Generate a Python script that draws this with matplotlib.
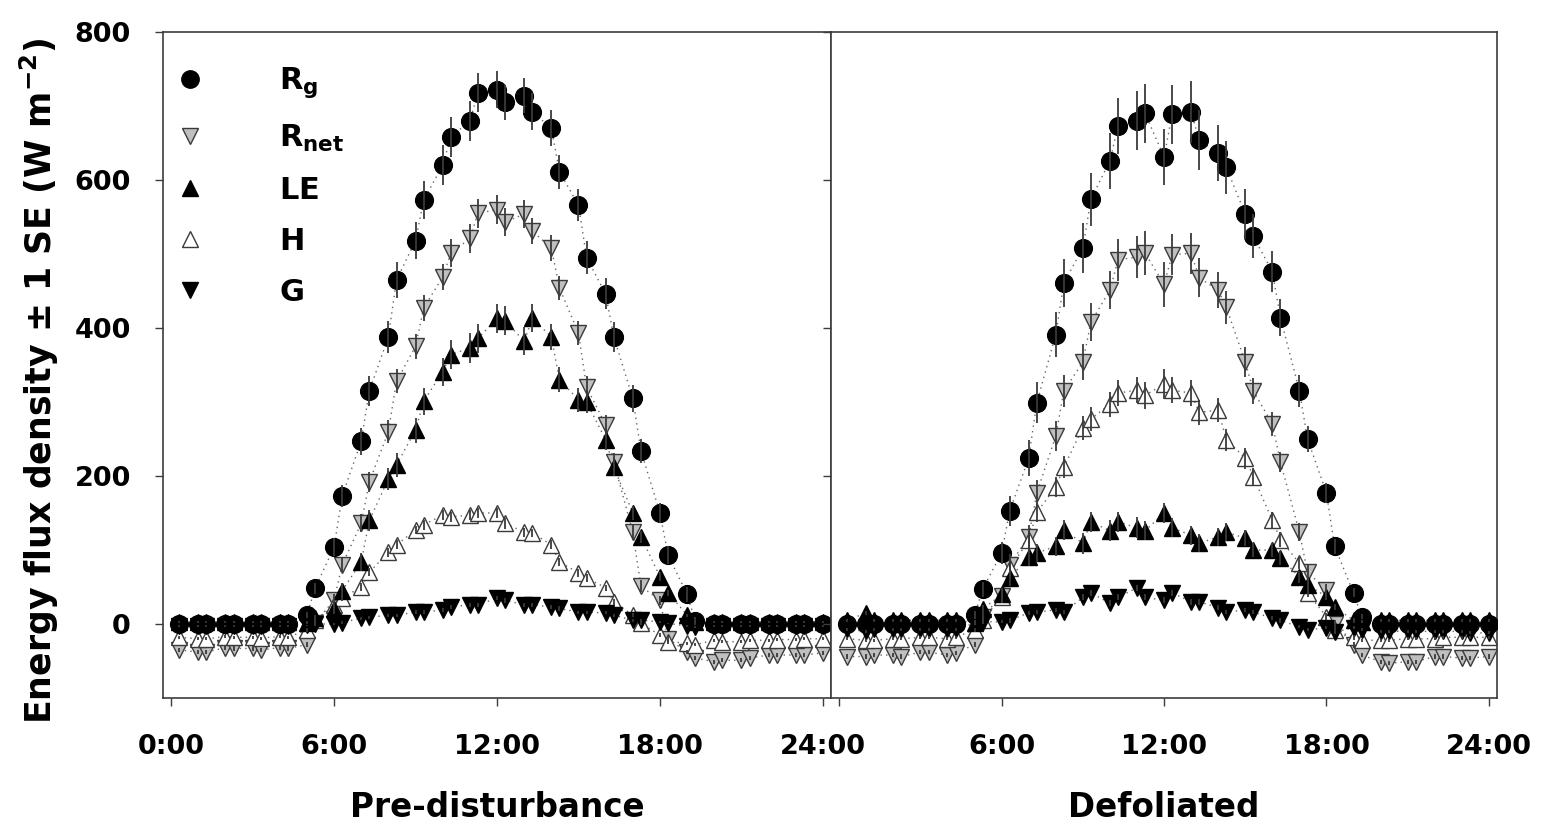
import matplotlib
matplotlib.use("Agg")
import matplotlib.pyplot as plt
from matplotlib.lines import Line2D

plt.rcParams['font.family'] = ['DejaVu Sans']
plt.rcParams['font.weight'] = 'bold'
plt.rcParams['mathtext.fontset'] = 'custom'
plt.rcParams['mathtext.rm'] = 'DejaVu Sans:bold'
plt.rcParams['mathtext.bf'] = 'DejaVu Sans:bold'
plt.rcParams['mathtext.it'] = 'DejaVu Sans:bold'

# Half-hourly logger clock times; plotted as hour + minutes/100 (0:30 -> 0.3)
clock = ["0:30", "1:00", "1:30", "2:00", "2:30", "3:00", "3:30", "4:00",
         "4:30", "5:00", "5:30", "6:00", "6:30", "7:00", "7:30", "8:00",
         "8:30", "9:00", "9:30", "10:00", "10:30", "11:00", "11:30", "12:00",
         "12:30", "13:00", "13:30", "14:00", "14:30", "15:00", "15:30", "16:00",
         "16:30", "17:00", "17:30", "18:00", "18:30", "19:00", "19:30", "20:00",
         "20:30", "21:00", "21:30", "22:00", "22:30", "23:00", "23:30", "24:00"]

panels = ["Pre-disturbance", "Defoliated"]
tick_hours = [0, 6, 12, 18, 24]
tick_labels_left = ["0:00", "6:00", "12:00", "18:00", "24:00"]
tick_labels_right = ["", "6:00", "12:00", "18:00", "24:00"]
y_ticks = [0, 200, 400, 600, 800]

# ---------------- Pre-disturbance (W m-2) ----------------
pre_rg = [0, 0, 0, 0, 0, 0, 0, 0, 0, 12, 48, 104, 173, 247, 315, 388,
          465, 518, 573, 620, 658, 680, 718, 722, 705, 714, 692, 670, 611, 566, 495, 446,
          388, 305, 234, 150, 93, 40, 4, 0, 0, 0, 0, 0, 0, 0, 0, 0]
pre_rg_se = [0, 0, 0, 0, 0, 0, 0, 0, 0, 4, 8, 12, 15, 18, 20, 22,
             24, 25, 26, 27, 27, 27, 26, 25, 24, 24, 25, 24, 23, 22, 22, 21,
             20, 18, 16, 14, 12, 10, 6, 0, 0, 0, 0, 0, 0, 0, 0, 0]
pre_rnet = [-35, -38, -38, -32, -33, -33, -35, -32, -33, -28, 2, 32, 80, 136, 192, 260,
            328, 375, 427, 469, 501, 521, 555, 560, 543, 554, 531, 508, 454, 393, 320, 269,
            219, 124, 51, 32, -20, -38, -46, -51, -49, -49, -46, -42, -42, -42, -42, -39]
pre_rnet_se = [3, 3, 3, 3, 3, 3, 3, 3, 3, 3, 5, 8, 10, 12, 14, 15,
               16, 17, 18, 18, 19, 19, 20, 20, 19, 19, 18, 17, 16, 16, 15, 14,
               12, 10, 8, 6, 4, 3, 3, 3, 3, 3, 3, 3, 3, 3, 3, 3]
pre_le = [3, 3, 3, 3, 3, 3, 3, 3, 3, 2, 8, 20, 45, 84, 140, 196,
          215, 262, 301, 341, 364, 373, 386, 413, 410, 382, 413, 388, 330, 303, 300, 249,
          212, 150, 118, 64, 42, 12, 3, 3, 3, 3, 3, 3, 3, 3, 3, 3]
pre_le_se = [1, 1, 1, 1, 1, 1, 1, 1, 1, 2, 4, 6, 10, 12, 14, 15,
             16, 17, 18, 19, 20, 20, 20, 20, 20, 19, 19, 18, 17, 16, 15, 14,
             12, 10, 8, 6, 4, 2, 1, 1, 1, 1, 1, 1, 1, 1, 1, 1]
pre_h = [-18, -20, -20, -17, -18, -18, -19, -17, -18, -8, 5, 25, 35, 50, 70, 97,
         107, 127, 134, 147, 145, 147, 150, 150, 136, 124, 123, 107, 84, 69, 62, 49,
         30, 12, 1, -15, -24, -26, -28, -22, -24, -24, -22, -22, -21, -21, -20, -20]
pre_h_se = [2, 2, 2, 2, 2, 2, 2, 2, 2, 3, 3, 4, 4, 5, 5, 6,
            6, 6, 7, 7, 7, 7, 7, 7, 7, 6, 6, 6, 5, 5, 5, 4,
            4, 3, 3, 3, 3, 2, 2, 2, 2, 2, 2, 2, 2, 2, 2, 2]
pre_g = [-3, -3, -3, -3, -3, -3, -3, -3, -3, -2, 0, 0, 2, 8, 9, 12,
         12, 16, 16, 19, 23, 26, 26, 35, 32, 26, 26, 23, 21, 16, 16, 15,
         12, 5, 5, 3, 1, -3, -4, -3, -3, -3, -3, -3, -3, -3, -3, -3]
pre_g_se = [1, 1, 1, 1, 1, 1, 1, 1, 1, 1, 1, 1, 2, 2, 2, 2,
            2, 3, 3, 3, 3, 3, 3, 3, 3, 3, 3, 3, 3, 2, 2, 2,
            2, 2, 2, 1, 1, 1, 1, 1, 1, 1, 1, 1, 1, 1, 1, 1]

# ---------------- Defoliated (W m-2) ----------------
def_rg = [0, 0, 0, 0, 0, 0, 0, 0, 0, 12, 47, 96, 153, 224, 299, 391,
          461, 508, 574, 626, 673, 680, 690, 631, 689, 692, 654, 636, 617, 554, 524, 476,
          414, 315, 250, 177, 105, 42, 10, 0, 0, 0, 0, 0, 0, 0, 0, 0]
def_rg_se = [0, 0, 0, 0, 0, 0, 0, 0, 0, 5, 10, 15, 20, 24, 28, 30,
             32, 34, 36, 38, 38, 40, 40, 38, 40, 42, 40, 38, 36, 34, 30, 28,
             25, 22, 18, 14, 10, 6, 3, 0, 0, 0, 0, 0, 0, 0, 0, 0]
def_rnet = [-44, -44, -42, -42, -44, -38, -38, -42, -39, -28, 10, 38, 80, 118, 177, 254,
            315, 354, 408, 451, 492, 496, 501, 459, 499, 501, 468, 451, 428, 354, 315, 270,
            219, 124, 70, 46, 0, -28, -42, -51, -53, -51, -51, -44, -44, -46, -46, -44]
def_rnet_se = [3, 3, 3, 3, 3, 3, 3, 3, 3, 3, 6, 10, 14, 16, 18, 20,
               22, 24, 26, 26, 28, 28, 30, 30, 28, 28, 26, 24, 22, 20, 18, 16,
               14, 12, 10, 8, 6, 4, 3, 3, 3, 3, 3, 3, 3, 3, 3, 3]
def_le = [5, 15, 5, 5, 5, 5, 5, 5, 5, 2, 20, 40, 62, 91, 96, 105,
          127, 109, 138, 126, 138, 130, 126, 150, 130, 120, 109, 118, 124, 116, 100, 100,
          89, 64, 53, 37, 23, 5, 3, 5, 5, 5, 5, 5, 5, 5, 5, 5]
def_le_se = [2, 3, 2, 2, 2, 2, 2, 2, 2, 3, 5, 8, 10, 12, 12, 13,
             13, 14, 14, 14, 14, 14, 13, 13, 13, 13, 12, 12, 12, 11, 10, 10,
             9, 8, 6, 5, 4, 3, 2, 2, 2, 2, 2, 2, 2, 2, 2, 2]
def_h = [-20, -22, -22, -20, -20, -18, -18, -20, -18, -8, 5, 37, 75, 113, 151, 185,
         212, 265, 277, 297, 312, 316, 309, 324, 316, 312, 286, 289, 249, 224, 199, 140,
         114, 82, 42, 10, -8, -18, -22, -22, -22, -20, -20, -20, -18, -18, -18, -18]
def_h_se = [2, 2, 2, 2, 2, 2, 2, 2, 2, 3, 5, 8, 10, 12, 13, 14,
            15, 16, 16, 17, 18, 18, 18, 20, 18, 18, 17, 16, 15, 14, 12, 11,
            10, 8, 6, 5, 4, 3, 2, 2, 2, 2, 2, 2, 2, 2, 2, 2]
def_g = [-7, -10, -7, -7, -7, -7, -7, -7, -7, 1, 3, 3, 5, 15, 16, 19,
         16, 36, 42, 28, 36, 49, 36, 32, 42, 30, 30, 22, 16, 19, 16, 8,
         5, -4, -8, -5, -11, -5, -8, -10, -10, -10, -10, -10, -10, -10, -12, -12]
def_g_se = [2, 2, 2, 2, 2, 2, 2, 2, 2, 2, 2, 2, 3, 3, 3, 3,
            3, 4, 4, 4, 4, 4, 4, 4, 4, 4, 4, 3, 3, 3, 3, 3,
            3, 2, 2, 2, 2, 2, 2, 2, 2, 2, 2, 2, 2, 2, 2, 2]

hours = [int(c.split(":")[0]) + int(c.split(":")[1]) / 100 for c in clock]

# series styles: label, marker, face colour, edge colour, z-order
styles = {
    "rnet": (r"$\mathbf{R_{net}}$", "v", "#bfbfbf", "#3a3a3a", 3),
    "h":    (r"$\mathbf{H}$",       "^", "white",   "#3a3a3a", 4),
    "le":   (r"$\mathbf{LE}$",      "^", "black",   "black",   5),
    "g":    (r"$\mathbf{G}$",       "v", "black",   "black",   6),
    "rg":   (r"$\mathbf{R_g}$",     "o", "black",   "black",   7),
}

panel_data = [
    {"rg": (pre_rg, pre_rg_se), "rnet": (pre_rnet, pre_rnet_se), "le": (pre_le, pre_le_se),
     "h": (pre_h, pre_h_se), "g": (pre_g, pre_g_se)},
    {"rg": (def_rg, def_rg_se), "rnet": (def_rnet, def_rnet_se), "le": (def_le, def_le_se),
     "h": (def_h, def_h_se), "g": (def_g, def_g_se)},
]

fig = plt.figure(figsize=(15.43, 8.27), dpi=100)
ax_l = fig.add_axes([0.1056, 0.156, 0.4330, 0.8053])
ax_r = fig.add_axes([0.5386, 0.156, 0.4316, 0.8053])
axes = [ax_l, ax_r]
tick_sets = [tick_labels_left, tick_labels_right]

spine_col = "#3c3c3c"
for ax, name, data, tlabels in zip(axes, panels, panel_data, tick_sets):
    for key in ["rnet", "h", "le", "g", "rg"]:
        label, mk, fc, ec, z = styles[key]
        vals, se = data[key]
        ax.plot(hours, vals, linestyle=(0, (1, 3)), color="#666666", linewidth=1.0,
                zorder=1)
        ax.plot(hours, vals, linestyle="none", marker=mk,
                markersize=12.8 if mk == "o" else 12.2,
                markerfacecolor=fc, markeredgecolor=ec, markeredgewidth=1.0, zorder=z)
        ax.errorbar(hours, vals, yerr=se, fmt="none", ecolor="#3a3a3a",
                    elinewidth=1.3, capsize=0, zorder=8)
    ax.set_xlim(-0.3, 24.3)
    ax.set_ylim(-100, 800)
    ax.set_xticks(tick_hours)
    ax.set_xticklabels(tlabels)
    ax.set_yticks(y_ticks)
    ax.tick_params(direction="out", length=6, width=1.0, color=spine_col)
    ax.tick_params(axis="x", labelsize=19.5, pad=20)
    ax.tick_params(axis="y", labelsize=19.5, pad=17)
    for sp in ax.spines.values():
        sp.set_color(spine_col)
        sp.set_linewidth(1.2)
    ax.set_xlabel(name, fontsize=23.5, fontweight="bold", labelpad=22)

ax_r.tick_params(axis="y", labelleft=False)
ax_l.set_ylabel("Energy flux density ± 1 SE (W m$^{\\mathbf{-2}}$)", fontsize=25,
                fontweight="bold")
ax_l.yaxis.set_label_coords(-0.152, 0.477)

handles = []
for key in ["rg", "rnet", "le", "h", "g"]:
    label, mk, fc, ec, z = styles[key]
    handles.append(Line2D([], [], linestyle="none", marker=mk,
                          markersize=12.5 if mk == "o" else 11.5,
                          markerfacecolor=fc, markeredgecolor=ec, label=label))
ax_l.legend(handles=handles, loc="upper left", frameon=False, fontsize=22,
            handlelength=1.0, handletextpad=2.4, labelspacing=0.72,
            borderaxespad=0.0, borderpad=0.4, bbox_to_anchor=(0.0, 0.968))

fig.savefig("out.png", dpi=100)
